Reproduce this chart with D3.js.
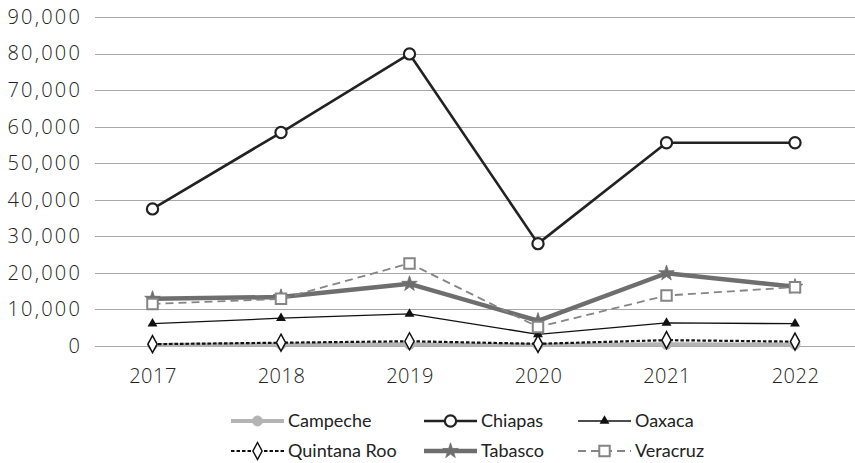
<!DOCTYPE html>
<html>
<head>
<meta charset="utf-8">
<script src="https://cdn.jsdelivr.net/npm/d3@7"></script>
<style>
  html, body { margin: 0; padding: 0; background: #fff; }
  svg { display: block; }
</style>
</head>
<body>
<svg id="chart" width="855" height="463"></svg>
<script>
// Years on the horizontal axis
const years = ["2017", "2018", "2019", "2020", "2021", "2022"];

// Series values per state
const campeche    = [300, 400, 450, 250, 450, 400];
const chiapas     = [37500, 58400, 79900, 28000, 55600, 55600];
const oaxaca      = [6100, 7600, 8800, 3200, 6300, 6100];
const quintanaRoo = [500, 900, 1300, 600, 1600, 1200];
const tabasco     = [12900, 13400, 17000, 6900, 19900, 16200];
const veracruz    = [11500, 12900, 22600, 5200, 13800, 16100];

// Y axis ticks
const yTicks = [0, 10000, 20000, 30000, 40000, 50000, 60000, 70000, 80000, 90000];

const series = [
  { name: "Campeche",     values: campeche,    color: "#b4b4b4", width: 4,   dash: null,    marker: "circleFill" },
  { name: "Chiapas",      values: chiapas,     color: "#222222", width: 2.6, dash: null,    marker: "circleOpen" },
  { name: "Oaxaca",       values: oaxaca,      color: "#111111", width: 1.3, dash: null,    marker: "triangle" },
  { name: "Quintana Roo", values: quintanaRoo, color: "#111111", width: 2.2, dash: "3.5,2", marker: "diamond" },
  { name: "Tabasco",      values: tabasco,     color: "#6e6e6e", width: 4.5, dash: null,    marker: "star" },
  { name: "Veracruz",     values: veracruz,    color: "#858585", width: 1.8, dash: "8,5",   marker: "square" }
];

const svg = d3.select("#chart");

const x = d3.scalePoint().domain(years).range([88.25, 859.25]).padding(0.5);
const y = d3.scaleLinear().domain([0, 90000]).range([346, 17]);

const gridLeft = 95, gridRight = 855;
const axisFont = "'Open Sans', sans-serif";
const legendFont = "Lato, sans-serif";

// Horizontal gridlines
svg.append("g")
  .selectAll("line")
  .data(yTicks)
  .join("line")
  .attr("x1", gridLeft).attr("x2", gridRight)
  .attr("y1", d => Math.round(y(d)) + 0.5).attr("y2", d => Math.round(y(d)) + 0.5)
  .attr("stroke", "#a8a8a8").attr("stroke-width", 1.2);

// Y axis labels
const fmt = d3.format(",");
const yAxis = svg.append("g").attr("transform", `translate(${gridLeft},0)`)
  .call(d3.axisLeft(y).tickValues(yTicks).tickFormat(fmt).tickSize(0).tickPadding(13));
yAxis.select(".domain").remove();
yAxis.selectAll("text")
  .attr("font-family", axisFont).attr("font-weight", 300)
  .attr("font-size", 20).attr("letter-spacing", 2.2).attr("fill", "#222");

// X axis labels
const xAxis = svg.append("g").attr("transform", "translate(0,346)")
  .call(d3.axisBottom(x).tickSize(0).tickPadding(23));
xAxis.select(".domain").remove();
xAxis.selectAll("text")
  .attr("font-family", axisFont).attr("font-weight", 300)
  .attr("font-size", 20).attr("letter-spacing", 0.5).attr("fill", "#222");

// Marker drawing
function drawMarker(g, type, color) {
  switch (type) {
    case "circleFill":
      g.append("circle").attr("r", 5).attr("fill", color).attr("stroke", color).attr("stroke-width", 1);
      break;
    case "circleOpen":
      g.append("circle").attr("r", 5.6).attr("fill", "#fff").attr("stroke", color).attr("stroke-width", 2.2);
      break;
    case "triangle":
      g.append("path").attr("d", d3.symbol(d3.symbolTriangle, 42)()).attr("fill", color);
      break;
    case "diamond":
      g.append("path").attr("d", "M0,-8.5L4.6,0L0,8.5L-4.6,0Z")
        .attr("fill", "#fff").attr("stroke", color).attr("stroke-width", 1.5);
      break;
    case "star":
      g.append("path").attr("d", d3.symbol(d3.symbolStar, 75)()).attr("fill", color)
        .attr("stroke", color).attr("stroke-width", 0.8);
      break;
    case "square":
      g.append("path").attr("d", d3.symbol(d3.symbolSquare, 110)())
        .attr("fill", "#fff").attr("stroke", color).attr("stroke-width", 2);
      break;
  }
}

const line = d3.line().x((d, i) => x(years[i])).y(d => y(d));

// Lines and markers, in series order
series.forEach(s => {
  const g = svg.append("g");
  g.append("path")
    .attr("d", line(s.values))
    .attr("fill", "none")
    .attr("stroke", s.color)
    .attr("stroke-width", s.width)
    .attr("stroke-linejoin", "round")
    .attr("stroke-dasharray", s.dash);
  s.values.forEach((v, i) => {
    const m = g.append("g").attr("transform", `translate(${x(years[i])},${y(v)})`);
    drawMarker(m, s.marker, s.color);
  });
});

// Legend: three columns, two rows
const legendCols = [231, 424, 578];
const legendRows = [421, 451];
const legend = svg.append("g");
series.forEach((s, i) => {
  const lx = legendCols[i % 3];
  const ly = legendRows[Math.floor(i / 3)];
  const item = legend.append("g").attr("transform", `translate(${lx},${ly})`);
  item.append("line")
    .attr("x1", 0).attr("x2", 53).attr("y1", 0).attr("y2", 0)
    .attr("stroke", s.color).attr("stroke-width", s.width)
    .attr("stroke-dasharray", s.dash);
  drawMarker(item.append("g").attr("transform", "translate(26.5,0)"), s.marker, s.color);
  item.append("text")
    .attr("x", 57).attr("y", 0).attr("dy", "0.35em")
    .attr("font-family", legendFont).attr("font-size", 18)
    .attr("fill", "#222")
    .text(s.name);
});
</script>
</body>
</html>
